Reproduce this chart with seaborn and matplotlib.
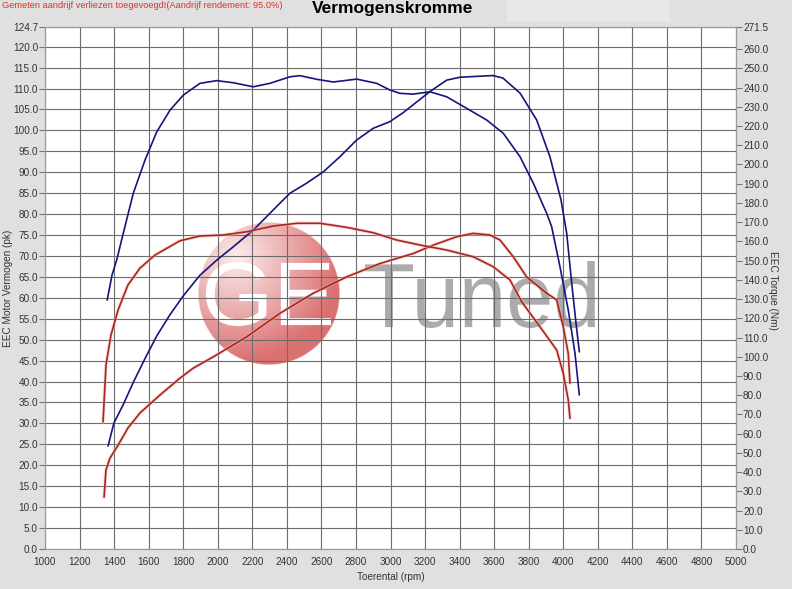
import numpy as np
import pandas as pd
import matplotlib.pyplot as plt
import seaborn as sns
import matplotlib.patheffects as pe
from matplotlib.patches import Rectangle, PathPatch
from matplotlib.textpath import TextPath
from matplotlib.font_manager import FontProperties
from matplotlib.transforms import Affine2D

# Style
sns.set_style("white")
plt.rcParams['font.family'] = ['Liberation Sans', 'DejaVu Sans']

# --- Data read from the dyno sheet ---
# tuned run (blue)
tuned_power_rpm = [1365, 1399, 1453, 1511, 1579, 1647, 1724, 1801, 1897, 1994, 2090, 2206, 2302, 2418,
                   2515, 2611, 2707, 2804, 2900, 2997, 3072, 3229, 3325, 3402, 3593, 3651, 3750, 3846,
                   3923, 3987, 4020, 4049, 4074, 4093]
tuned_power_pk = [24.6, 30.1, 34.5, 39.8, 45.5, 50.9, 56.0, 60.5, 65.4, 69.0, 72.2, 76.2, 80.2, 85.0,
                  87.4, 90.1, 93.7, 97.7, 100.5, 102.1, 104.2, 109.3, 112.0, 112.7, 113.1, 112.5, 108.9, 102.5,
                  93.7, 83.4, 75.4, 63.5, 53.9, 47.1]
tuned_torque_rpm = [1360, 1388, 1415, 1453, 1511, 1579, 1647, 1724, 1801, 1897, 1994, 2090, 2206, 2302,
                    2418, 2476, 2573, 2669, 2804, 2920, 2997, 3055, 3132, 3229, 3325, 3441, 3557, 3653,
                    3750, 3827, 3904, 3933, 3981, 4029, 4068, 4093]
tuned_torque_nm = [129.5, 142.5, 150.3, 164.2, 185.0, 202.3, 217.0, 228.3, 236.1, 242.2, 243.6, 242.5, 240.4, 242.2,
                   245.6, 246.2, 244.3, 242.9, 244.4, 242.2, 238.7, 237.0, 236.6, 237.8, 235.2, 229.2, 223.1, 216.2,
                   204.0, 190.2, 174.6, 167.6, 146.8, 124.3, 101.8, 80.1]

# stock run (red)
stock_power_rpm = [1342, 1353, 1376, 1423, 1480, 1550, 1666, 1781, 1858, 1974, 2168, 2360, 2553, 2746,
                   2939, 3132, 3248, 3383, 3479, 3576, 3634, 3711, 3788, 3904, 3962, 4000, 4029, 4039]
stock_power_pk = [12.4, 18.9, 21.7, 24.8, 28.9, 32.5, 36.8, 40.8, 43.2, 45.9, 50.7, 56.3, 61.1, 65.0,
                  68.2, 70.6, 72.6, 74.6, 75.4, 75.0, 73.8, 69.8, 65.0, 61.1, 59.5, 53.1, 46.7, 39.6]
stock_torque_rpm = [1336, 1353, 1382, 1423, 1480, 1550, 1637, 1781, 1897, 2030, 2168, 2322, 2457, 2592,
                    2746, 2900, 3036, 3171, 3325, 3479, 3595, 3692, 3760, 3865, 3962, 4000, 4029, 4039]
stock_torque_nm = [66.1, 95.7, 111.3, 124.3, 137.3, 146.1, 152.9, 160.3, 162.8, 163.3, 165.0, 168.0, 169.4, 169.4,
                   167.3, 164.5, 160.7, 158.1, 155.5, 152.0, 146.8, 139.9, 128.5, 115.6, 103.5, 91.4, 77.5, 68.0]

rpm_ticks = list(range(1000, 5001, 200))
pk_ticks = [i * 5.0 for i in range(25)] + [124.7]
nm_ticks = [i * 10.0 for i in range(27)] + [271.5]

BLUE = '#15157e'
RED = '#a8261d'

power_df = pd.concat([
    pd.DataFrame({'rpm': tuned_power_rpm, 'value': tuned_power_pk, 'run': 'tuned'}),
    pd.DataFrame({'rpm': stock_power_rpm, 'value': stock_power_pk, 'run': 'stock'}),
])
torque_df = pd.concat([
    pd.DataFrame({'rpm': tuned_torque_rpm, 'value': tuned_torque_nm, 'run': 'tuned'}),
    pd.DataFrame({'rpm': stock_torque_rpm, 'value': stock_torque_nm, 'run': 'stock'}),
])

W, H = 792, 589
fig = plt.figure(figsize=(W / 100, H / 100), dpi=100, facecolor='#e0e0e0')
fig.patches.append(Rectangle((507 / W, 1 - 22 / H), 163 / W, 22 / H, transform=fig.transFigure,
                             facecolor='#e9e7e7', edgecolor='none', zorder=0))

# plot area: x 45..736, y 27..549 (pixels from top)
ax = fig.add_axes([45 / W, 40 / H, 691 / W, 522 / H])
ax.set_facecolor('white')
ax2 = ax.twinx()

# --- watermark logo (below the grid) ---
def px2rpm(px):
    return 1000 + (px - 45) * 4000 / 691

def py2pk(py):
    return (549 - py) * 124.7 / 522

N = 300
yy, xx = np.mgrid[-1:1:N * 1j, -1:1:N * 1j]
r = np.sqrt(xx ** 2 + yy ** 2)
d = np.sqrt((xx + 0.45) ** 2 + (yy + 0.5) ** 2)
t = np.clip(d / 1.45, 0, 1)[..., None]
light = np.array([0.99, 0.93, 0.93])
dark = np.array([0.86, 0.44, 0.44])
rgba = np.zeros((N, N, 4))
rgba[..., :3] = light * (1 - t) + dark * t
rgba[..., 3] = np.clip((1 - r) * N / 2, 0, 1)
ax.imshow(rgba, extent=[px2rpm(198), px2rpm(340), py2pk(365), py2pk(223)],
          aspect='auto', zorder=0.1, interpolation='bilinear')


def logo_text(s, x0, x1, y0, y1, color):
    # fit a text path into a pixel box (y measured from top)
    tp = TextPath((0, 0), s, size=1, prop=FontProperties(family='Liberation Sans'))
    ext = tp.get_extents()
    sx = (x1 - x0) / ext.width
    sy = (y1 - y0) / ext.height
    tr = (Affine2D().translate(-ext.x0, -ext.y0).scale(sx / 100, sy / 100)
          .translate(x0 / 100, (H - y1) / 100) + fig.dpi_scale_trans)
    ax.add_patch(PathPatch(tp, transform=tr, facecolor=color, edgecolor='none', zorder=0.3))


logo_text('GE', 206, 331, 262, 326, 'white')
logo_text('Tuned', 365, 595, 261, 328, '#ababab')

# --- curves ---
sns.lineplot(data=power_df, x='rpm', y='value', hue='run', palette={'tuned': BLUE, 'stock': RED},
             sort=False, estimator=None, legend=False, lw=1.2, ax=ax)
sns.lineplot(data=torque_df, x='rpm', y='value', hue='run', palette={'tuned': BLUE, 'stock': RED},
             sort=False, estimator=None, legend=False, lw=1.2, ax=ax2)
for a in (ax, ax2):
    for ln in a.get_lines():
        ln.set_solid_capstyle('round')
        ln.set_solid_joinstyle('round')
        if ln.get_color() == RED:
            ln.set_path_effects([pe.Stroke(linewidth=2.6, foreground='#f4b8b8', alpha=0.5), pe.Normal()])
        ln.set_zorder(3)

# --- axes, ticks, grid ---
ax.set_xlim(1000, 5000)
ax.set_ylim(0, 124.7)
ax2.set_ylim(0, 271.5)
ax.set_xticks(rpm_ticks)
ax.set_yticks(pk_ticks)
ax.set_yticklabels([f'{v:.1f}' for v in pk_ticks])
ax2.set_yticks(nm_ticks)
ax2.set_yticklabels([f'{v:.1f}' for v in nm_ticks])

ax.set_axisbelow(True)
ax.grid(True, color='#6c6c6c', lw=0.8)
ax2.grid(False)

ax.tick_params(axis='y', direction='out', length=4, width=0.8, color='#777777',
               labelsize=7.2, labelcolor='#333333', pad=1)
ax2.tick_params(axis='y', direction='out', length=4, width=0.8, color='#777777',
                labelsize=7.2, labelcolor='#333333', pad=1)
ax.tick_params(axis='x', length=3, width=0.6, color='#777777', labelsize=7.2,
               labelcolor='#333333', pad=3)
for a in (ax, ax2):
    for sp in a.spines.values():
        sp.set_color('#9a9a9a')
        sp.set_linewidth(0.8)

ax.set_xlabel('Toerental (rpm)', fontsize=7.2, color='#333333', labelpad=3)
ax.set_ylabel('')
ax2.set_ylabel('')
fig.text(8 / W, 1 - 288 / H, 'EEC Motor Vermogen (pk)', rotation=90, ha='center', va='center',
         fontsize=7.2, color='#333333')
fig.text(773 / W, 1 - 290 / H, 'EEC Torque (Nm)', rotation=270, ha='center', va='center',
         fontsize=7.2, color='#333333')

# header texts
fig.text(2 / W, 1 - 6 / H, 'Gemeten aandrijf verliezen toegevoegd!(Aandrijf rendement: 95.0%)',
         ha='left', va='center', fontsize=6.7, color='#e0302a')
fig.text(393 / W, 1 - 9 / H, 'Vermogenskromme', ha='center', va='center',
         fontsize=12.5, fontweight='bold', color='black')

fig.savefig('out.png', dpi=100, facecolor=fig.get_facecolor())
